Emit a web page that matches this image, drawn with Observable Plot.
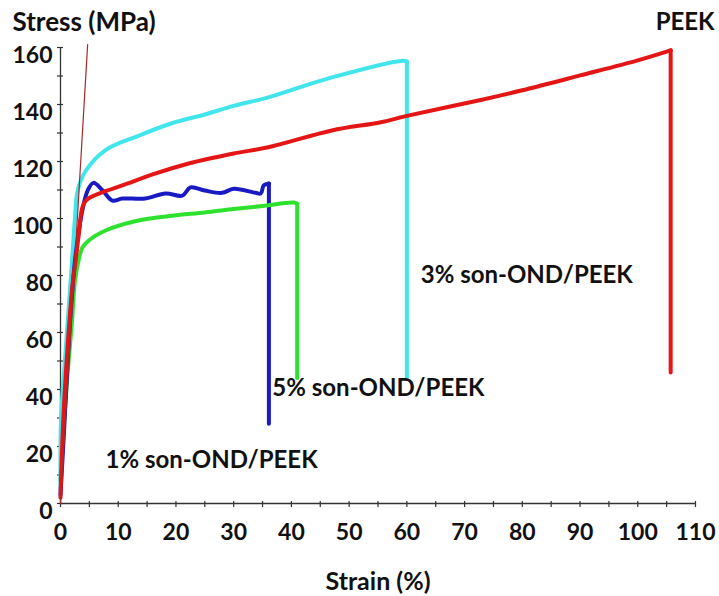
<!DOCTYPE html>
<html><head><meta charset="utf-8">
<script src="https://cdn.jsdelivr.net/npm/d3@7"></script>
<script src="https://cdn.jsdelivr.net/npm/@observablehq/plot@0.6"></script>
<style>
body{margin:0;background:#fff;}
</style></head><body><div id="chart"></div>
<script>
// ---- data ----
const seriesNames = ["5% son-OND/PEEK", "3% son-OND/PEEK", "1% son-OND/PEEK", "PEEK"];
const seriesColors = ["#2fe12f", "#40e6ec", "#1a1ac4", "#e51515"];

// loading curves (last value is the point where the specimen breaks)
const ond5Strain = [0, 0.5, 1.2, 2, 2.5, 3.2, 3.8, 4.9, 7.8, 13.5, 19.4, 25, 30, 35, 40.4, 41];
const ond5Stress = [8, 25, 45, 64, 78, 86, 89.8, 92.3, 95.8, 99.3, 101, 102.1, 103.3, 104.4, 105.6, 105.2];

const ond3Strain = [0, 0.1, 0.9, 2, 2.5, 3, 4.3, 7.8, 13.5, 19.4, 25, 30, 36, 47, 59, 60];
const ond3Stress = [5, 30, 54, 85, 100, 110, 116.5, 124, 129, 133.5, 136.5, 139.5, 142.5, 149.5, 155.3, 155.1];

const ond1Strain = [0, 0.6, 1.2, 1.8, 2.5, 3.2, 3.8, 4.7, 5.7, 7.3, 9, 10.7, 14.7, 18.2, 21.1, 22.5, 25, 28, 30, 33.8, 34.7, 35.2, 36.1];
const ond1Stress = [3, 25, 48, 68, 85, 96, 103, 109.8, 112.5, 109.8, 106.3, 107, 107, 108.8, 108, 110.9, 109.8, 109, 110.4, 109, 108.8, 111.6, 112.3];

const peekStrain = [0, 0.5, 1.2, 2.1, 2.6, 3.2, 3.8, 4.5, 7, 10.7, 16.5, 22.2, 30, 36, 47, 55.5, 60, 72.8, 80, 90, 100, 105.7];
const peekStress = [2, 30, 54, 77, 85, 95, 104, 106.5, 109, 111.6, 115.8, 119.3, 122.8, 125, 130.9, 133.8, 136, 141.6, 145, 150.2, 155.5, 159];

// stress each curve falls to after break
const breakStress = [44, 44, 28, 46];

const modulusStrain = [0, 4.7];
const modulusStress = [0, 161];

const xTicksMajor = [0, 10, 20, 30, 40, 50, 60, 70, 80, 90, 100, 110];
const xTicksMinor = [0, 5, 10, 15, 20, 25, 30, 35, 40, 45, 50, 55, 60, 65, 70, 75, 80, 85, 90, 95, 100, 105, 110];
const yTicksMajor = [0, 20, 40, 60, 80, 100, 120, 140, 160];
const yTicksMinor = [0, 10, 20, 30, 40, 50, 60, 70, 80, 90, 100, 110, 120, 130, 140, 150, 160];

const labelTexts = ["3% son-OND/PEEK", "5% son-OND/PEEK", "1% son-OND/PEEK", "PEEK"];
const labelStrain = [62.4, 36.7, 7.8, 103.1];
const labelStress = [80.2, 40.5, 15.1, 168.8];

// ---- build tables ----
const strains = [ond5Strain, ond3Strain, ond1Strain, peekStrain];
const stresses = [ond5Stress, ond3Stress, ond1Stress, peekStress];
const rows = [];
const drops = [];
seriesNames.forEach((s, i) => {
  strains[i].forEach((x, j) => rows.push({series: s, strain: x, stress: stresses[i][j]}));
  const n = strains[i].length - 1;
  drops.push({series: s, strain: strains[i][n], stress: stresses[i][n]});
  drops.push({series: s, strain: strains[i][n], stress: breakStress[i]});
});
const modulus = modulusStrain.map((x, j) => ({strain: x, stress: modulusStress[j]}));
const labels = labelTexts.map((t, j) => ({text: t, strain: labelStrain[j], stress: labelStress[j]}));

const chart = Plot.plot({
  width: 719,
  height: 596,
  marginLeft: 60,
  marginRight: 24,
  marginTop: 47,
  marginBottom: 93,
  style: {fontFamily: "Lato, 'Open Sans', sans-serif", fontSize: "23px", fontWeight: "bold", color: "#111", background: "#fff"},
  x: {domain: [0, 110], axis: null},
  y: {domain: [0, 160], axis: null},
  color: {domain: seriesNames, range: seriesColors},
  marks: [
    Plot.ruleY([0], {stroke: "#333", strokeWidth: 1.3}),
    Plot.ruleX([0], {stroke: "#333", strokeWidth: 1.3}),
    Plot.axisX(xTicksMinor, {tickSize: 6, dy: -2, fill: "none", stroke: "#333", strokeWidth: 1.2, label: null}),
    Plot.axisX(xTicksMajor, {tickSize: 0, tickPadding: 20, fill: "#111", label: null}),
    Plot.axisY(yTicksMinor, {tickSize: 6, dx: 3, fill: "none", stroke: "#333", strokeWidth: 1.2, label: null}),
    Plot.axisY(yTicksMajor, {tickSize: 0, tickPadding: 8, dy: 8, fill: "#111", label: null}),
    Plot.line(drops, {x: "strain", y: "stress", z: "series", stroke: "series", strokeWidth: 4}),
    Plot.line(rows, {x: "strain", y: "stress", z: "series", stroke: "series", strokeWidth: 4, curve: "catmull-rom"}),
    Plot.line(modulus, {x: "strain", y: "stress", stroke: "#a52a2a", strokeWidth: 1.2}),
    Plot.text(labels, {x: "strain", y: "stress", text: "text", textAnchor: "start", lineAnchor: "middle", fontSize: 24, fill: "#111"}),
    Plot.text(["Stress (MPa)"], {frameAnchor: "top-left", dx: -48, dy: -25, textAnchor: "start", lineAnchor: "middle", fontSize: 26, fill: "#111"}),
    Plot.text(["Strain (%)"], {frameAnchor: "bottom", dy: 78, lineAnchor: "middle", fontSize: 25, fill: "#111"})
  ]
});
document.getElementById("chart").appendChild(chart);
</script>
</body></html>
